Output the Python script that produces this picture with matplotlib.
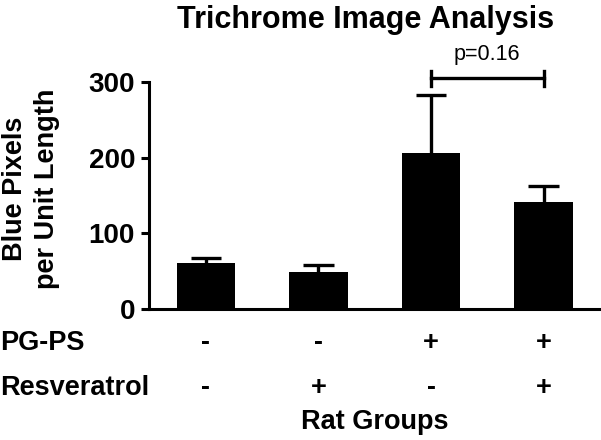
import matplotlib
matplotlib.use("Agg")
import matplotlib.pyplot as plt
import matplotlib.transforms as mtransforms

plt.rcParams['font.family'] = ['Liberation Sans', 'DejaVu Sans']

# ---- data ----
groups = ["G1", "G2", "G3", "G4"]
means = [61, 49, 206, 141]
sems = [7, 9, 77, 21]
pgps_signs = ["-", "-", "+", "+"]
resv_signs = ["-", "+", "-", "+"]
p_label = "p=0.16"
yticks = [0, 100, 200, 300]

W, H = 601, 440
fig = plt.figure(figsize=(W / 100, H / 100), dpi=100)

# axes placed in pixel terms
ax_left, ax_right = 149, 601
ax_bottom, ax_top = 309, 82
ax = fig.add_axes([ax_left / W, 1 - ax_bottom / H,
                   (ax_right - ax_left) / W, (ax_bottom - ax_top) / H])

x = list(range(len(groups)))
tops = [m + s for m, s in zip(means, sems)]
ax.vlines(x, means, tops, color="black", lw=2.4, zorder=1)
ax.hlines(tops, [xi - 0.135 for xi in x], [xi + 0.135 for xi in x],
          color="black", lw=2.4, zorder=1)
ax.bar(x, means, width=0.52, color="black", zorder=2)

ax.set_xlim(-0.505, 3.51)
ax.set_ylim(0, 300)
ax.set_yticks(yticks)
ax.set_yticklabels([str(v) for v in yticks], fontsize=20, fontweight="bold")
ax.set_xticks([])
ax.tick_params(axis="y", length=6, width=2.2, pad=4)
for s in ["top", "right"]:
    ax.spines[s].set_visible(False)
for s in ["left", "bottom"]:
    ax.spines[s].set_linewidth(2.2)

ax.set_ylabel("Blue Pixels\nper Unit Length", fontsize=19.5, fontweight="bold",
              linespacing=1.3)
ax.yaxis.set_label_coords(-0.196, 0.53)

# significance bracket between group 3 and 4
yb = 305
ax.plot([2, 3], [yb, yb], color="black", lw=2.4, clip_on=False)
ax.plot([2, 2], [yb - 10, yb + 10], color="black", lw=2.4, clip_on=False)
ax.plot([3, 3], [yb - 10, yb + 10], color="black", lw=2.4, clip_on=False)
ax.text(2.5, yb + 17, p_label, ha="center", va="bottom", fontsize=15.5,
        clip_on=False)

ax.set_title("Trichrome Image Analysis", fontsize=22, fontweight="bold", pad=39,
             x=0.48)

# group table below the axis
trans = mtransforms.blended_transform_factory(ax.transData, fig.transFigure)
row_y = {"pg": 1 - 343 / H, "rv": 1 - 388 / H}
fig.text(0.0, row_y["pg"], "PG-PS", ha="left", va="center", fontsize=19.5,
         fontweight="bold")
fig.text(0.0, row_y["rv"], "Resveratrol", ha="left", va="center", fontsize=19.5,
         fontweight="bold")
for xi, sp, sr in zip(x, pgps_signs, resv_signs):
    ax.text(xi, row_y["pg"], sp, transform=trans, ha="center", va="center",
            fontsize=19.5, fontweight="bold")
    ax.text(xi, row_y["rv"], sr, transform=trans, ha="center", va="center",
            fontsize=19.5, fontweight="bold")
ax.text(1.5, 1 - 422 / H, "Rat Groups", transform=trans, ha="center",
        va="center", fontsize=19.5, fontweight="bold")

fig.savefig("out.png", dpi=100)
